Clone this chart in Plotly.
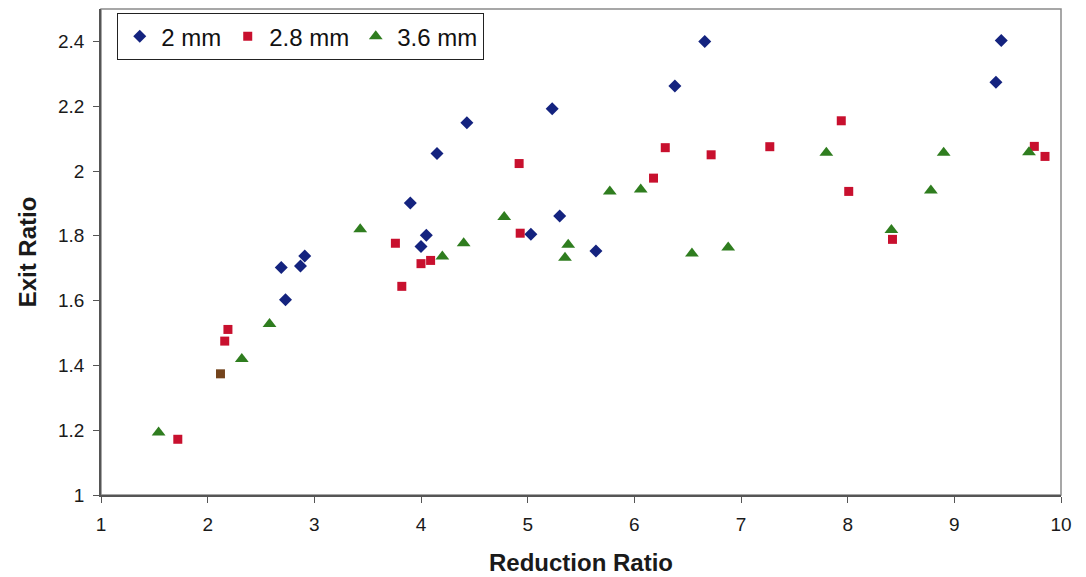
import plotly.graph_objects as go

# 2 mm series
blue_x = [2.69, 2.73, 2.87, 2.91, 3.90, 4.00, 4.05, 4.15, 4.43, 5.03, 5.23, 5.30, 5.64, 6.38, 6.66, 9.39, 9.44]
blue_y = [1.702, 1.603, 1.707, 1.738, 1.901, 1.767, 1.802, 2.054, 2.149, 1.805, 2.192, 1.861, 1.753, 2.262, 2.400, 2.274, 2.403]

# 2.8 mm series
red_x = [1.72, 2.12, 2.16, 2.19, 3.76, 3.82, 4.00, 4.09, 4.92, 4.93, 6.18, 6.29, 6.72, 7.27, 7.94, 8.01, 8.42, 9.75, 9.85]
red_y = [1.172, 1.374, 1.475, 1.511, 1.777, 1.644, 1.714, 1.724, 2.023, 1.808, 1.978, 2.072, 2.050, 2.075, 2.155, 1.937, 1.789, 2.076, 2.045]

# 3.6 mm series
green_x = [1.54, 2.32, 2.58, 3.43, 4.20, 4.40, 4.78, 5.35, 5.38, 5.77, 6.06, 6.54, 6.88, 7.80, 8.41, 8.78, 8.90, 9.70]
green_y = [1.193, 1.420, 1.528, 1.820, 1.736, 1.777, 1.858, 1.732, 1.772, 1.937, 1.943, 1.745, 1.764, 2.056, 1.818, 1.940, 2.056, 2.058]

series_names = ["2 mm", "2.8 mm", "3.6 mm"]

x_ticks = [1, 2, 3, 4, 5, 6, 7, 8, 9, 10]
y_ticks = [1, 1.2, 1.4, 1.6, 1.8, 2, 2.2, 2.4]
y_tick_text = ["1", "1.2", "1.4", "1.6", "1.8", "2", "2.2", "2.4"]

BLUE = "#14237f"
RED = "#c8102e"
GREEN = "#2f7d1f"
BROWN = "#74441c"

red_colors = [RED] * len(red_x)
red_colors[1] = BROWN

fig = go.Figure()
fig.add_trace(go.Scatter(x=blue_x, y=blue_y, mode="markers", name=series_names[0],
                         marker=dict(symbol="diamond", size=10, color=BLUE)))
fig.add_trace(go.Scatter(x=red_x, y=red_y, mode="markers", name=series_names[1],
                         marker=dict(symbol="square", size=9, color=red_colors)))
fig.add_trace(go.Scatter(x=green_x, y=green_y, mode="markers", name=series_names[2],
                         marker=dict(symbol="triangle-up", size=12, color=GREEN)))

# light frame on top/right
fig.add_shape(type="rect", xref="paper", yref="paper", x0=0, y0=0, x1=1, y1=1,
              line=dict(color="#8a8a8a", width=1.5), layer="below")

FONT = "Liberation Sans, Arial, sans-serif"

fig.update_layout(
    width=1086, height=577,
    margin=dict(l=93, r=33, t=1, b=90),
    paper_bgcolor="white", plot_bgcolor="white",
    font=dict(family=FONT, color="#1a1a1a"),
    showlegend=True,
    legend=dict(orientation="h", x=0.0167, y=0.992, xanchor="left", yanchor="top",
                bordercolor="#222222", borderwidth=1.2, bgcolor="white",
                font=dict(size=24, family=FONT, color="#111"),
                itemsizing="trace", tracegroupgap=0, itemwidth=33),
    xaxis=dict(range=[1, 10], tickvals=x_ticks, ticktext=[str(v) for v in x_ticks],
               automargin=False,
               showgrid=False, zeroline=False, showline=True, linecolor="#555555", linewidth=1.5,
               ticks="outside", ticklen=6, tickcolor="#555555", ticklabelstandoff=5,
               tickfont=dict(size=19, family=FONT, color="#1a1a1a"),
               title=dict(text="<b>Reduction Ratio</b>", font=dict(size=24, family=FONT, color="#1a1a1a"), standoff=21)),
    yaxis=dict(range=[1, 2.5], tickvals=y_ticks, ticktext=y_tick_text,
               automargin=False,
               showgrid=False, zeroline=False, showline=True, linecolor="#555555", linewidth=1.5,
               ticks="outside", ticklen=6, tickcolor="#555555", ticklabelstandoff=5,
               tickfont=dict(size=19, family=FONT, color="#1a1a1a"),
               title=dict(text="<b>Exit Ratio</b>", font=dict(size=24, family=FONT, color="#1a1a1a"), standoff=15)),
)

fig.write_html("out.html")
